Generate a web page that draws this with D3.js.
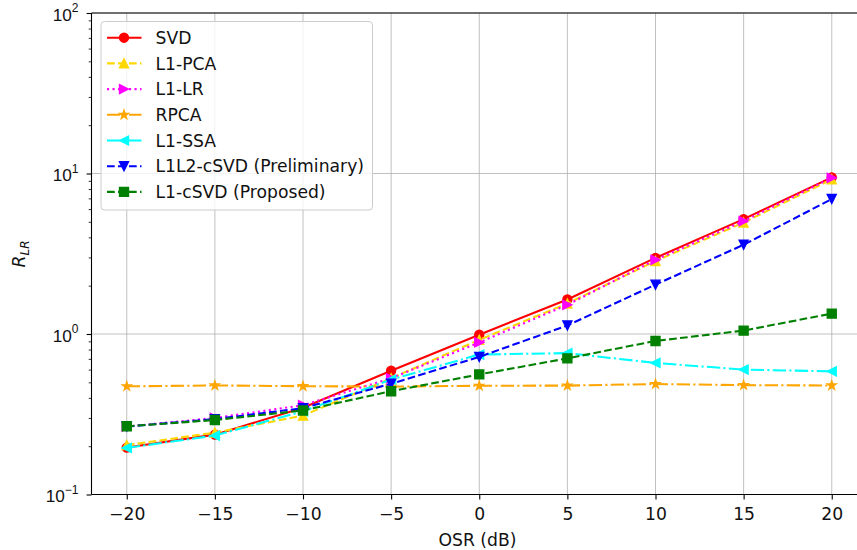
<!DOCTYPE html>
<html>
<head>
<meta charset="utf-8">
<script src="https://cdn.jsdelivr.net/npm/d3@7"></script>
<style>
  html, body { margin: 0; padding: 0; background: #fff; }
  svg { display: block; font-family: "DejaVu Sans", sans-serif; }
</style>
</head>
<body>
<svg id="chart" width="857" height="550"></svg>
<script>
// OSR sweep (dB)
const osr = [-20, -15, -10, -5, 0, 5, 10, 15, 20];

// R_LR per method
const svd     = [0.196, 0.236, 0.347, 0.59, 0.99, 1.64, 2.98, 5.2, 9.46];
const l1pca   = [0.203, 0.243, 0.31, 0.53, 0.92, 1.55, 2.85, 4.95, 9.2];
const l1lr    = [0.265, 0.30, 0.36, 0.53, 0.886, 1.52, 2.9, 5.05, 9.4];
const rpca    = [0.472, 0.478, 0.473, 0.47, 0.476, 0.477, 0.488, 0.48, 0.478];
const l1ssa   = [0.195, 0.233, 0.33, 0.52, 0.745, 0.76, 0.66, 0.60, 0.585];
const l1l2    = [0.265, 0.295, 0.345, 0.49, 0.72, 1.13, 2.03, 3.6, 6.93];
const l1csvd  = [0.266, 0.291, 0.334, 0.44, 0.56, 0.705, 0.905, 1.05, 1.34];

const seriesNames = ["SVD", "L1-PCA", "L1-LR", "RPCA", "L1-SSA", "L1L2-cSVD (Preliminary)", "L1-cSVD (Proposed)"];
const seriesValues = [svd, l1pca, l1lr, rpca, l1ssa, l1l2, l1csvd];
const seriesColors = ["#ff0000", "#ffd700", "#ff00ff", "#ffa500", "#00ffff", "#0000ff", "#008000"];
const seriesDash = ["", "7.7,3.3", "2.1,3.4", "13.3,3.3,2.1,3.3", "13.3,3.3,2.1,3.3", "7.7,3.3", "7.7,3.3"];
const seriesMarker = ["circle", "triUp", "triRight", "star", "triLeft", "triDown", "square"];

const xTicks = [-20, -15, -10, -5, 0, 5, 10, 15, 20];
const yTicks = [0.1, 1, 10, 100];
const yTickExp = ["\u22121", "0", "1", "2"];

const FS = 17.2, FS_SMALL = 12, TEXT = "#111";

const svg = d3.select("#chart");
const plotLeft = 91.5, plotRight = 867, plotTop = 13, plotBottom = 494.5;

const x = d3.scaleLinear().domain([-22, 22]).range([plotLeft, plotRight]);
const y = d3.scaleLog().domain([0.1, 100]).range([plotBottom, plotTop]);

// grid
const grid = svg.append("g");
grid.selectAll("line.gx").data(xTicks).join("line")
  .attr("x1", d => x(d)).attr("x2", d => x(d))
  .attr("y1", plotTop).attr("y2", plotBottom)
  .attr("stroke", "#b0b0b0").attr("stroke-width", 0.8);
grid.selectAll("line.gy").data(yTicks).join("line")
  .attr("x1", plotLeft).attr("x2", plotRight)
  .attr("y1", d => y(d)).attr("y2", d => y(d))
  .attr("stroke", "#b0b0b0").attr("stroke-width", 0.8);

// axes
const xAxis = d3.axisBottom(x).tickValues(xTicks).tickSize(4.9)
  .tickFormat(d => d < 0 ? "\u2212" + Math.abs(d) : String(d));
const gx = svg.append("g").attr("transform", `translate(0,${plotBottom})`).call(xAxis);
gx.select(".domain").remove();
gx.selectAll(".tick line").attr("stroke", "#000").attr("stroke-width", 1.1);
gx.selectAll(".tick text").attr("font-size", FS).attr("fill", TEXT)
  .attr("font-family", "DejaVu Sans, sans-serif")
  .attr("y", 25.8).attr("dy", null);

const minor = [];
for (let e = -1; e < 2; e++) for (let m = 2; m <= 9; m++) minor.push(m * Math.pow(10, e));
const yMinor = d3.axisLeft(y).tickValues(minor).tickSize(2.8).tickFormat("");
const gym = svg.append("g").attr("transform", `translate(${plotLeft},0)`).call(yMinor);
gym.select(".domain").remove();
gym.selectAll(".tick line").attr("stroke", "#000").attr("stroke-width", 0.8);

const yAxis = d3.axisLeft(y).tickValues(yTicks).tickSize(4.9).tickFormat("");
const gy = svg.append("g").attr("transform", `translate(${plotLeft},0)`).call(yAxis);
gy.select(".domain").remove();
gy.selectAll(".tick line").attr("stroke", "#000").attr("stroke-width", 1.1);
gy.selectAll(".tick").each(function(d, i) {
  const t = d3.select(this).append("text")
    .attr("x", -13).attr("y", 7.2).attr("text-anchor", "end")
    .attr("fill", TEXT).attr("font-size", FS);
  t.append("tspan").text("10");
  t.append("tspan").attr("dy", -8.4).attr("font-size", FS_SMALL).text(yTickExp[i]);
});

// spines
svg.append("line").attr("x1", plotLeft).attr("x2", plotLeft).attr("y1", plotTop).attr("y2", plotBottom)
  .attr("stroke", "#000").attr("stroke-width", 1.1);
svg.append("line").attr("x1", plotLeft).attr("x2", plotRight).attr("y1", plotBottom).attr("y2", plotBottom)
  .attr("stroke", "#000").attr("stroke-width", 1.1);
svg.append("line").attr("x1", plotLeft).attr("x2", plotRight).attr("y1", plotTop).attr("y2", plotTop)
  .attr("stroke", "#000").attr("stroke-width", 1.1);

// marker shapes
const S = 9;
function markerPath(type) {
  const h = S / 2;
  switch (type) {
    case "circle": return d3.symbol(d3.symbolCircle, Math.PI * h * h)();
    case "square": return `M${-h},${-h}H${h}V${h}H${-h}Z`;
    case "triUp": return `M0,${-h}L${h},${h}L${-h},${h}Z`;
    case "triDown": return `M0,${h}L${h},${-h}L${-h},${-h}Z`;
    case "triRight": return `M${h},0L${-h},${-h}L${-h},${h}Z`;
    case "triLeft": return `M${-h},0L${h},${-h}L${h},${h}Z`;
    case "star": {
      const pts = [];
      for (let k = 0; k < 10; k++) {
        const r = k % 2 === 0 ? h : h * 0.381966;
        const a = Math.PI / 2 + k * Math.PI / 5;
        pts.push([r * Math.cos(a), -r * Math.sin(a)]);
      }
      return "M" + pts.map(p => p.join(",")).join("L") + "Z";
    }
  }
}

const line = d3.line().x((d, i) => x(osr[i])).y(d => y(d));
seriesValues.forEach((vals, s) => {
  const g = svg.append("g");
  g.append("path").attr("d", line(vals)).attr("fill", "none")
    .attr("stroke", seriesColors[s]).attr("stroke-width", 2.08)
    .attr("stroke-dasharray", seriesDash[s] || null);
  g.selectAll("path.m").data(vals).join("path")
    .attr("d", markerPath(seriesMarker[s]))
    .attr("transform", (d, i) => `translate(${x(osr[i])},${y(d)})`)
    .attr("fill", seriesColors[s]).attr("stroke", seriesColors[s]).attr("stroke-width", 1.39);
});

// legend
const lg = svg.append("g");
lg.append("rect").attr("x", 101).attr("y", 21.5).attr("width", 271.5).attr("height", 188.5)
  .attr("rx", 3.5).attr("fill", "#fff").attr("fill-opacity", 0.8)
  .attr("stroke", "#cccccc").attr("stroke-width", 1);
seriesNames.forEach((name, s) => {
  const cy = 37.7 + s * 25.7;
  lg.append("line").attr("x1", 107).attr("x2", 141.5).attr("y1", cy).attr("y2", cy)
    .attr("stroke", seriesColors[s]).attr("stroke-width", 2.08)
    .attr("stroke-dasharray", seriesDash[s] || null);
  lg.append("path").attr("d", markerPath(seriesMarker[s]))
    .attr("transform", `translate(124,${cy})`)
    .attr("fill", seriesColors[s]).attr("stroke", seriesColors[s]).attr("stroke-width", 1.39);
  lg.append("text").attr("x", 155.5).attr("y", cy + 6.2).attr("font-size", FS)
    .attr("fill", TEXT).text(name);
});

// axis labels
svg.append("text").attr("x", 477.5).attr("y", 545.5).attr("text-anchor", "middle")
  .attr("font-size", FS).attr("fill", TEXT).text("OSR (dB)");
const yl = svg.append("text").attr("transform", "translate(25,254) rotate(-90)")
  .attr("text-anchor", "middle").attr("font-size", FS).attr("fill", TEXT)
  .attr("font-style", "italic");
yl.append("tspan").text("R");
yl.append("tspan").attr("dy", 3.5).attr("font-size", FS_SMALL).text("LR");
</script>
</body>
</html>
